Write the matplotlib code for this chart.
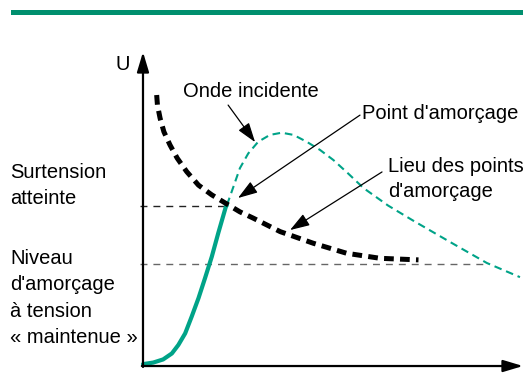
import matplotlib
matplotlib.use("Agg")
import matplotlib.pyplot as plt
from matplotlib.patches import Rectangle

plt.rcParams['font.family'] = ['Liberation Sans', 'DejaVu Sans']
plt.rcParams['lines.scale_dashes'] = False

# onde incidente, partie montante (trait plein) jusqu'au point d'amorcage
t_rise = [0.0, 0.27, 0.53, 0.76, 0.93, 1.11, 1.28, 1.46, 1.63, 1.81, 1.98, 2.18, 2.21]
u_rise = [0.06, 0.11, 0.21, 0.40, 0.67, 1.04, 1.57, 2.16, 2.79, 3.48, 4.23, 5.07, 5.13]

# suite de l'onde (pointilles)
t_wave = [2.21, 2.38, 2.55, 2.77, 3.03, 3.34, 3.65, 3.96, 4.31, 4.66, 5.01, 5.40,
          5.80, 6.45, 7.11, 8.08, 9.05, 9.92]
u_wave = [5.13, 5.71, 6.30, 6.77, 7.14, 7.36, 7.43, 7.36, 7.14, 6.88, 6.56, 6.13,
          5.67, 5.11, 4.63, 3.95, 3.28, 2.83]

# lieu des points d'amorcage
t_locus = [0.36, 0.38, 0.45, 0.55, 0.71, 0.90, 1.15, 1.46, 1.81, 2.22, 2.55, 2.90,
           3.61, 4.48, 5.36, 6.24, 7.25]
u_locus = [8.63, 8.31, 7.89, 7.46, 7.04, 6.62, 6.19, 5.76, 5.45, 5.15, 4.91, 4.71,
           4.28, 3.91, 3.59, 3.43, 3.38]

u_surtension = 5.10
u_niveau = 3.25
t_cross = 9.05

left_labels = ["Surtension", "atteinte", "Niveau", "d'amorçage", "à tension", "« maintenue »"]
left_label_u = [5.99, 5.16, 3.25, 2.42, 1.56, 0.73]

green = '#00a388'

fig = plt.figure(figsize=(5.23, 3.88), dpi=100)
ax = fig.add_axes([0, 0, 1, 1])
ax.set_xlim(-3.763, 10.0)
ax.set_ylim(-0.70, 11.656)
ax.axis('off')

# bandeau vert en haut
fig.add_artist(Rectangle((0.021, 0.9613), 0.979, 0.0129, transform=fig.transFigure,
                         color='#008f6e', lw=0))

# axes avec fleches
arrow = dict(arrowstyle='-|>,head_length=0.6,head_width=0.18', color='black', lw=1.6,
             mutation_scale=20, shrinkA=0, shrinkB=0)
ax.annotate('', xy=(0, 10.0), xytext=(0, -0.03), arrowprops=arrow)
ax.annotate('', xy=(10.0, 0), xytext=(-0.03, 0), arrowprops=arrow)
ax.text(-0.53, 9.59, 'U', fontsize=14.5, ha='center', va='center')

# niveaux
ax.plot([-0.08, 2.21], [u_surtension, u_surtension], color='#222222', lw=1.0, dashes=(5, 4.3))
ax.plot([-0.08, t_cross], [u_niveau, u_niveau], color='#666666', lw=1.0, dashes=(5, 4.3))

# courbes
ax.plot(t_wave, u_wave, color=green, lw=1.5, dashes=(5.5, 3.5))
ax.plot(t_rise, u_rise, color=green, lw=3.0, solid_capstyle='round')
ax.plot(t_locus, u_locus, color='black', lw=3.6, dashes=(7, 4.5))

# textes de gauche
for lab, yy in zip(left_labels, left_label_u):
    ax.text(-3.5, yy, lab, fontsize=14.5, ha='left', va='baseline')

# annotations
ann = dict(arrowstyle='-|>,head_length=0.6,head_width=0.2', color='black', lw=0.9,
           mutation_scale=20, shrinkA=0, shrinkB=0)
ax.text(1.05, 8.57, 'Onde incidente', fontsize=14.5, ha='left', va='baseline')
ax.annotate('', xy=(2.95, 7.13), xytext=(2.24, 8.31), arrowprops=ann)

ax.text(5.76, 7.87, "Point d'amorçage", fontsize=14.5, ha='left', va='baseline')
ax.annotate('', xy=(2.50, 5.35), xytext=(5.71, 7.99), arrowprops=ann)

ax.text(6.45, 6.18, 'Lieu des points', fontsize=14.5, ha='left', va='baseline')
ax.text(6.45, 5.38, "d'amorçage", fontsize=14.5, ha='left', va='baseline')
ax.annotate('', xy=(3.87, 4.33), xytext=(6.29, 6.18), arrowprops=ann)

fig.savefig('out.png', dpi=100)
